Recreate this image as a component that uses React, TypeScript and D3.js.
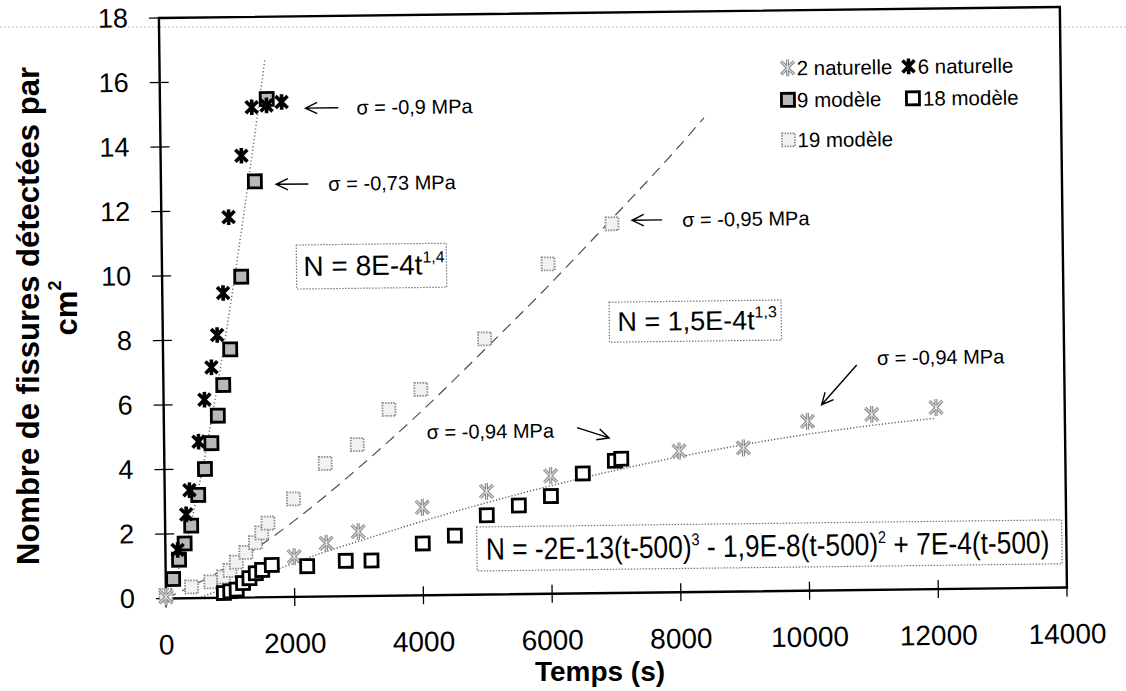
import * as d3 from "d3"

const xTicks = [0, 2000, 4000, 6000, 8000, 10000, 12000, 14000]
const yTicks = [0, 2, 4, 6, 8, 10, 12, 14, 16, 18]

// [temps (s), fissures par cm²]
const naturelle2: [number, number][] = [
  [0, 0.05], [2000, 1.25], [2500, 1.65], [3000, 2.0], [4000, 2.73], [5000, 3.2],
  [6000, 3.66], [8000, 4.38], [9000, 4.45], [10000, 5.25], [11000, 5.44], [12000, 5.63],
]
const naturelle6: [number, number][] = [
  [190, 1.5], [330, 2.6], [385, 3.35], [535, 4.85], [635, 6.15], [750, 7.15], [845, 8.15],
  [945, 9.45], [1045, 11.8], [1255, 13.7], [1425, 15.2], [1655, 15.25], [1890, 15.35],
]
const modele9: [number, number][] = [
  [115, 0.6], [210, 1.2], [300, 1.7], [405, 2.25], [520, 3.2], [630, 4.0], [735, 4.8],
  [840, 5.65], [930, 6.6], [1045, 7.7], [1230, 9.95], [1460, 12.9], [1660, 15.45],
]
const modele18: [number, number][] = [
  [900, 0.15], [1000, 0.2], [1100, 0.25], [1200, 0.45], [1300, 0.6], [1400, 0.75], [1500, 0.85],
  [1650, 1.0], [2200, 0.95], [2800, 1.1], [3200, 1.1], [4000, 1.61], [4500, 1.84], [5000, 2.46],
  [5500, 2.75], [6000, 3.03], [6500, 3.72], [7000, 4.1], [7100, 4.16],
]
const modele19: [number, number][] = [
  [0, 0.1], [400, 0.35], [700, 0.5], [900, 0.65], [1000, 0.85], [1100, 1.1], [1250, 1.4],
  [1400, 1.7], [1500, 2.0], [1600, 2.3], [2000, 3.04], [2500, 4.13], [3000, 4.7], [3500, 5.78],
  [4000, 6.39], [5000, 7.93], [6000, 10.23], [7000, 11.45],
]

// trend lines, points
const fitSteep: [number, number][] = [
  [0, 0], [200, 0.88], [400, 2.3], [600, 4.1], [800, 6.15], [1000, 8.4], [1200, 10.85], [1400, 13.45], [1640, 16.7],
]
const fitDashed: [number, number][] = [
  [0, 0], [1000, 1.0], [2000, 2.35], [3000, 3.95], [4000, 5.7], [5000, 7.6], [6000, 9.55], [7000, 11.6], [8000, 13.7], [8450, 14.7],
]
const fitPoly: [number, number][] = [
  [500, 0], [1000, 0.35], [1500, 0.7], [2000, 1.05], [2500, 1.4], [3000, 1.7], [4000, 2.3], [5000, 2.85],
  [6000, 3.35], [7000, 3.8], [8000, 4.2], [9000, 4.55], [10000, 4.85], [11000, 5.1], [12000, 5.3],
]

const FONT = "'Liberation Sans', Arial, Helvetica, sans-serif"
const W = 1126
const H = 691

const x = d3.scaleLinear().domain([0, 14000]).range([166, 1067])
const y = d3.scaleLinear().domain([0, 18]).range([598.5, 18])

const line = d3
  .line<[number, number]>()
  .x((d) => x(d[0]))
  .y((d) => y(d[1]))
  .curve(d3.curveMonotoneX)

function Asterisk({ cx, cy, r, stroke, width }: { cx: number; cy: number; r: number; stroke: string; width: number }) {
  const d = `M${cx - r},${cy - r}L${cx + r},${cy + r}M${cx - r},${cy + r}L${cx + r},${cy - r}M${cx},${cy - r * 1.3}L${cx},${cy + r * 1.3}`
  return <path d={d} stroke={stroke} strokeWidth={width} fill="none" />
}

function Nat2({ cx, cy }: { cx: number; cy: number }) {
  return (
    <g>
      <Asterisk cx={cx} cy={cy} r={6.5} stroke="#8a8a8a" width={3.2} />
      <Asterisk cx={cx} cy={cy} r={6.5} stroke="#e2e2e2" width={1} />
    </g>
  )
}

function Nat6({ cx, cy }: { cx: number; cy: number }) {
  return <Asterisk cx={cx} cy={cy} r={6} stroke="#000" width={3.6} />
}

function Square({ cx, cy, kind }: { cx: number; cy: number; kind: "9" | "18" | "19" }) {
  const s = 13
  if (kind === "19")
    return (
      <rect x={cx - s / 2} y={cy - s / 2} width={s} height={s} fill="#f2f2f2" stroke="#8c8c8c" strokeWidth={1.8} strokeDasharray="1.5,1.2" />
    )
  return (
    <rect
      x={cx - s / 2}
      y={cy - s / 2}
      width={s}
      height={s}
      fill={kind === "9" ? "#b8b8b8" : "#fff"}
      stroke="#000"
      strokeWidth={2.8}
    />
  )
}

function Arrow({ x1, y1, x2, y2 }: { x1: number; y1: number; x2: number; y2: number }) {
  const a = Math.atan2(y2 - y1, x2 - x1)
  const h = 13
  const s = 0.45
  const p1 = [x2 - h * Math.cos(a - s), y2 - h * Math.sin(a - s)]
  const p2 = [x2 - h * Math.cos(a + s), y2 - h * Math.sin(a + s)]
  return <path d={`M${x1},${y1}L${x2},${y2}M${p1}L${x2},${y2}L${p2}`} stroke="#000" strokeWidth={1.4} fill="none" />
}

function Sigma({ t, v, label }: { t: number; v: number; label: string }) {
  return (
    <text x={x(t)} y={y(v)} fontSize={20} dominantBaseline="central" fontFamily={FONT}>
      {label}
    </text>
  )
}

function EqBox({ t, v, w, h }: { t: number; v: number; w: number; h: number }) {
  return <rect x={x(t)} y={y(v)} width={w} height={h} fill="#fff" stroke="#777" strokeWidth={1.2} strokeDasharray="1.5,1.5" />
}

export default function App() {
  const x0 = x(0)
  const y0 = y(0)
  const lx = 794
  const ly = 75.5

  return (
    <svg width={W} height={H} style={{ position: "absolute", left: 0, top: 0, background: "#fff" }} fontFamily={FONT}>
      <line x1={0} x2={W} y1={27} y2={27} stroke="#c4c4c4" strokeWidth={1.2} strokeDasharray="2,2" />

      {/* y axis title */}
      <text transform="translate(28,316) rotate(-90)" textAnchor="middle" dominantBaseline="central" fontSize={31} fontWeight="bold">
        Nombre de fissures détectées par
      </text>
      <text transform="translate(66,308) rotate(-90)" textAnchor="middle" dominantBaseline="central" fontSize={31} fontWeight="bold">
        cm<tspan dy={-11} fontSize={18}>2</tspan>
      </text>

      <text x={600} y={681} textAnchor="middle" fontSize={28} fontWeight="bold">
        Temps (s)
      </text>

      <g transform={`rotate(-0.7 ${x0} ${y0})`}>
        {/* equation boxes */}
        <EqBox t={2090} v={10.91} w={150} h={44} />
        <text x={x(2090) + 7} y={y(10.91) + 31} fontSize={28}>
          N = 8E-4t<tspan dy={-12} fontSize={16}>1,4</tspan>
        </text>

        <EqBox t={6940} v={9.02} w={172} h={40} />
        <text x={x(6940) + 8} y={y(9.02) + 29} fontSize={27}>
          N = 1,5E-4t<tspan dy={-12} fontSize={16}>1,3</tspan>
        </text>

        <EqBox t={4840} v={2.1} w={585} h={44} />
        <text transform={`translate(${x(4840) + 9},${y(2.1) + 33}) scale(0.85,1)`} fontSize={31}>
          N = -2E-13(t-500)<tspan dy={-12} fontSize={17}>3</tspan>
          <tspan dy={12}> - 1,9E-8(t-500)</tspan>
          <tspan dy={-12} fontSize={17}>2</tspan>
          <tspan dy={12}> + 7E-4(t-500)</tspan>
        </text>

        {/* trend lines */}
        <path d={line(fitSteep) ?? ""} fill="none" stroke="#707070" strokeWidth={1.5} strokeDasharray="1.2,2.4" />
        <path d={line(fitDashed) ?? ""} fill="none" stroke="#505050" strokeWidth={1.2} strokeDasharray="11,7" />
        <path d={line(fitPoly) ?? ""} fill="none" stroke="#606060" strokeWidth={1.5} strokeDasharray="1.2,2" />

        {/* frame and axes */}
        <rect x={x0} y={y(18)} width={x(14000) - x0} height={y0 - y(18)} fill="none" stroke="#000" strokeWidth={2.4} />
        {yTicks.map((t) => (
          <g key={"y" + t}>
            <line x1={x0 - 10} x2={x0 + 9} y1={y(t)} y2={y(t)} stroke="#000" strokeWidth={1.3} />
            <text x={x0 - 31} y={y(t)} textAnchor="end" dominantBaseline="central" fontSize={27}>
              {t}
            </text>
          </g>
        ))}
        {xTicks.map((t) => (
          <g key={"x" + t}>
            <line x1={x(t)} x2={x(t)} y1={y0 - 9} y2={y0 + 9} stroke="#000" strokeWidth={1.3} />
            <text x={x(t)} y={y0 + 56} textAnchor="middle" fontSize={28}>
              {t}
            </text>
          </g>
        ))}

        {/* data */}
        {modele19.map((d, i) => (
          <Square key={"m19" + i} cx={x(d[0])} cy={y(d[1])} kind="19" />
        ))}
        {naturelle2.map((d, i) => (
          <Nat2 key={"n2" + i} cx={x(d[0])} cy={y(d[1])} />
        ))}
        {modele18.map((d, i) => (
          <Square key={"m18" + i} cx={x(d[0])} cy={y(d[1])} kind="18" />
        ))}
        {modele9.map((d, i) => (
          <Square key={"m9" + i} cx={x(d[0])} cy={y(d[1])} kind="9" />
        ))}
        {naturelle6.map((d, i) => (
          <Nat6 key={"n6" + i} cx={x(d[0])} cy={y(d[1])} />
        ))}

        {/* stress annotations */}
        <Arrow x1={x(2770)} y1={y(15.15)} x2={x(2260)} y2={y(15.15)} />
        <Sigma t={3050} v={15.15} label="σ = -0,9 MPa" />
        <Arrow x1={x(2290)} y1={y(12.8)} x2={x(1790)} y2={y(12.8)} />
        <Sigma t={2600} v={12.8} label="σ = -0,73 MPa" />
        <Arrow x1={x(7780)} y1={y(11.55)} x2={x(7313)} y2={y(11.55)} />
        <Sigma t={8090} v={11.55} label="σ = -0,95 MPa" />
        <Arrow x1={x(10776)} y1={y(6.98)} x2={x(10223)} y2={y(5.76)} />
        <Sigma t={11090} v={7.19} label="σ = -0,94 MPa" />
        <Arrow x1={x(6418)} y1={y(5.14)} x2={x(6915)} y2={y(4.81)} />
        <Sigma t={4080} v={5.06} label="σ = -0,94 MPa" />

        {/* legend */}
        <g fontSize={20.5}>
          <Nat2 cx={lx} cy={ly} />
          <text x={lx + 9} y={ly} dominantBaseline="central">2 naturelle</text>
          <Nat6 cx={lx + 121} cy={ly} />
          <text x={lx + 130} y={ly} dominantBaseline="central">6 naturelle</text>
          <Square cx={lx} cy={ly + 32} kind="9" />
          <text x={lx + 9} y={ly + 32} dominantBaseline="central">9 modèle</text>
          <Square cx={lx + 125} cy={ly + 32} kind="18" />
          <text x={lx + 135} y={ly + 32} dominantBaseline="central">18 modèle</text>
          <Square cx={lx} cy={ly + 72} kind="19" />
          <text x={lx + 9} y={ly + 72} dominantBaseline="central">19 modèle</text>
        </g>
      </g>
    </svg>
  )
}
